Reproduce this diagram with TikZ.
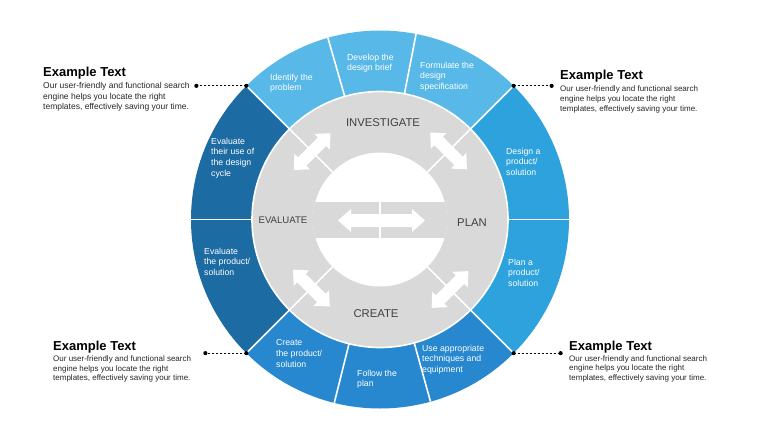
\documentclass[tikz,border=0pt]{standalone}
\usepackage{fontspec}
\setmainfont{Liberation Sans}
\usetikzlibrary{calc}
\definecolor{cTop}{HTML}{58B9E9}
\definecolor{cRight}{HTML}{2EA2DC}
\definecolor{cBot}{HTML}{2788CF}
\definecolor{cLeft}{HTML}{1D6BA3}
\definecolor{cGray}{HTML}{D9D9D9}
\definecolor{cLabel}{HTML}{404040}
\tikzset{
  segtext/.style={text=white, font=\fontsize{8.7}{10.7}\selectfont, align=left, anchor=north west, inner sep=0},
  phase/.style={text=cLabel, font=\fontsize{11.3}{13}\selectfont, inner sep=0},
  ctitle/.style={font=\bfseries\fontsize{13}{15}\selectfont, anchor=base west, inner sep=0},
  cbody/.style={font=\fontsize{8}{9.7}\selectfont, align=left, anchor=north west, inner sep=0, text=black!85},
  divider/.style={draw=white, line width=1.6pt},
  leader/.style={draw=black, line width=0.8pt, dash pattern=on 2.4pt off 1.6pt},
  bigarrow/.pic={\fill[white] (-43.5,0) -- (-30.5,-11.5) -- (-30.5,-6.5) -- (30.5,-6.5) -- (30.5,-11.5) -- (43.5,0) -- (30.5,11.5) -- (30.5,6.5) -- (-30.5,6.5) -- (-30.5,11.5) -- cycle;},
  smallarrow/.pic={\fill[white] (-26,0) -- (-14,-11) -- (-14,-6) -- (14,-6) -- (14,-11) -- (26,0) -- (14,11) -- (14,6) -- (-14,6) -- (-14,11) -- cycle;}
}
\begin{document}
\begin{tikzpicture}[x=1pt,y=-1pt]
\useasboundingbox (0,0) rectangle (760,428);
\fill[white] (0,0) rectangle (760,428);
\coordinate (C) at (380,219.5);
% ring sectors (image angles negated)
\fill[cTop] ($(C)+(-45:189)$) arc[start angle=-45,end angle=-135,radius=189] -- ($(C)+(-135:128)$) arc[start angle=-135,end angle=-45,radius=128] -- cycle;
\fill[cLeft] ($(C)+(-135:189)$) arc[start angle=-135,end angle=-225,radius=189] -- ($(C)+(-225:128)$) arc[start angle=-225,end angle=-135,radius=128] -- cycle;
\fill[cBot] ($(C)+(-225:189)$) arc[start angle=-225,end angle=-315,radius=189] -- ($(C)+(-315:128)$) arc[start angle=-315,end angle=-225,radius=128] -- cycle;
\fill[cRight] ($(C)+(45:189)$) arc[start angle=45,end angle=-45,radius=189] -- ($(C)+(-45:128)$) arc[start angle=-45,end angle=45,radius=128] -- cycle;
% gray disc and white centre
\fill[cGray] (C) circle[radius=128];
\draw[divider] (C) circle[radius=128];
\fill[white] (C) circle[radius=67];
\begin{scope}
  \clip (C) circle[radius=67];
  \fill[cGray] (300,202) rectangle (460,238);
\end{scope}
\draw[divider] (380,202) -- (380,238);
% dividers
\foreach \a in {-79,-106,0,180,-256,-285.5}
  \draw[divider] ($(C)+(\a:128)$) -- ($(C)+(\a:189)$);
\foreach \a in {-45,-135,-225,-315}
  \draw[divider] ($(C)+(\a:67)$) -- ($(C)+(\a:189)$);
% arrows
\pic at (381.5,220.5) {bigarrow};
\pic[rotate=45] at ($(C)+(-135:96)$) {smallarrow};
\pic[rotate=-45] at ($(C)+(-45:97)$) {smallarrow};
\pic[rotate=-45] at ($(C)+(-225:97)$) {smallarrow};
\pic[rotate=45] at ($(C)+(-315:99)$) {smallarrow};
% phase labels
\node[phase] (inv) at (383,123) {INVESTIGATE};
\node[phase] (plan) at (472,223) {PLAN};
\node[phase] (cre) at (376,314) {CREATE};
\node[phase, font=\fontsize{9.6}{11}\selectfont] (eva) at (283,220) {EVALUATE};
% segment texts
\node[segtext] (s1) at (270,73.5) {Identify the\\problem};
\node[segtext] (s2) at (347,53.5) {Develop the\\design brief};
\node[segtext] (s3) at (420,61.5) {Formulate the\\design\\specification};
\node[segtext] (s4) at (506,147.5) {Design a\\product/\\solution};
\node[segtext] (s5) at (508,258.5) {Plan a\\product/\\solution};
\node[segtext] (s6) at (422,344.5) {Use appropriate\\techniques and\\equipment};
\node[segtext] (s7) at (357,369.5) {Follow the\\plan};
\node[segtext] (s8) at (276,339.5) {Create\\the product/\\solution};
\node[segtext] (s9) at (204,247.5) {Evaluate\\the product/\\solution};
\node[segtext] (s10) at (211,137.5) {Evaluate\\their use of\\the design\\cycle};
% callouts
\coordinate (p1) at ($(C)+(-135:189)$);
\coordinate (p2) at ($(C)+(-45:189)$);
\coordinate (p3) at ($(C)+(-225:189)$);
\coordinate (p4) at ($(C)+(-315:189)$);
\coordinate (q1) at ($(p1)+(-50,0)$);
\coordinate (q2) at ($(p2)+(38,0)$);
\coordinate (q3) at ($(p3)+(-41,0)$);
\coordinate (q4) at ($(p4)+(47,0)$);
\foreach \i in {1,2,3,4} {
  \draw[leader] (p\i) -- (q\i);
  \fill (p\i) circle[radius=2.1];
  \fill (q\i) circle[radius=2.1];
}
\node[ctitle] (t1) at (43,76.5) {Example Text};
\node[cbody, font=\fontsize{8.5}{10.5}\selectfont] (b1) at (43,82.5) {Our user-friendly and functional search\\engine helps you locate the right\\templates, effectively saving your time.};
\node[ctitle] (t2) at (560,80) {Example Text};
\node[cbody] (b2) at (560,86) {Our user-friendly and functional search\\engine helps you locate the right\\templates, effectively saving your time.};
\node[ctitle] (t3) at (53,350) {Example Text};
\node[cbody] (b3) at (53,355.5) {Our user-friendly and functional search\\engine helps you locate the right\\templates, effectively saving your time.};
\node[ctitle] (t4) at (569,350) {Example Text};
\node[cbody] (b4) at (569,355) {Our user-friendly and functional search\\engine helps you locate the right\\templates, effectively saving your time.};
\end{tikzpicture}
\end{document}
